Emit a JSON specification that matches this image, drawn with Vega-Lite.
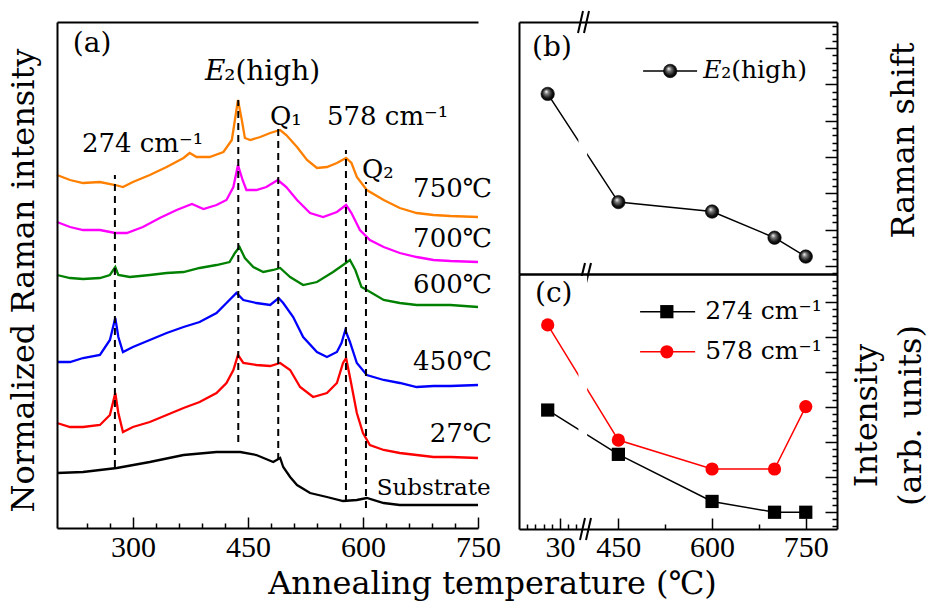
{
"$schema": "https://vega.github.io/schema/vega-lite/v6.json",
"autosize": {"type": "none"},
"padding": {"left": 57, "top": 22, "right": 881, "bottom": 591},
"background": "white",
"config": {
  "view": {"stroke": null},
  "axis": {"grid": false, "domainColor": "#000000", "domainWidth": 2, "tickColor": "#000000", "tickWidth": 1.5, "labelColor": "#000000", "titleColor": "#000000", "titleFontWeight": "normal", "labelFont": "Liberation Serif", "titleFont": "DejaVu Serif"},
  "text": {"font": "DejaVu Serif", "color": "#000000"}
},
"datasets": {
  "spectra": [
    {"sample":"750℃","shift":201,"intensity":352},{"sample":"750℃","shift":218,"intensity":347},{"sample":"750℃","shift":235,"intensity":344},{"sample":"750℃","shift":257,"intensity":345},{"sample":"750℃","shift":277,"intensity":342},{"sample":"750℃","shift":287,"intensity":340},{"sample":"750℃","shift":300,"intensity":345},{"sample":"750℃","shift":322,"intensity":352},{"sample":"750℃","shift":344,"intensity":360},{"sample":"750℃","shift":366,"intensity":369},{"sample":"750℃","shift":374,"intensity":374},{"sample":"750℃","shift":383,"intensity":370},{"sample":"750℃","shift":400,"intensity":370},{"sample":"750℃","shift":418,"intensity":375},{"sample":"750℃","shift":429,"intensity":387},{"sample":"750℃","shift":433,"intensity":407},{"sample":"750℃","shift":437,"intensity":427},{"sample":"750℃","shift":442,"intensity":407},{"sample":"750℃","shift":446,"intensity":389},{"sample":"750℃","shift":453,"intensity":387},{"sample":"750℃","shift":466,"intensity":390},{"sample":"750℃","shift":479,"intensity":394},{"sample":"750℃","shift":492,"intensity":397},{"sample":"750℃","shift":500,"intensity":392},{"sample":"750℃","shift":514,"intensity":380},{"sample":"750℃","shift":527,"intensity":367},{"sample":"750℃","shift":540,"intensity":359},{"sample":"750℃","shift":553,"intensity":360},{"sample":"750℃","shift":566,"intensity":364},{"sample":"750℃","shift":578,"intensity":369},{"sample":"750℃","shift":585,"intensity":364},{"sample":"750℃","shift":592,"intensity":350},{"sample":"750℃","shift":605,"intensity":337},{"sample":"750℃","shift":627,"intensity":327},{"sample":"750℃","shift":648,"intensity":319},{"sample":"750℃","shift":670,"intensity":314},{"sample":"750℃","shift":692,"intensity":312},{"sample":"750℃","shift":714,"intensity":311},{"sample":"750℃","shift":750,"intensity":310},
    {"sample":"700℃","shift":201,"intensity":305},{"sample":"700℃","shift":218,"intensity":300},{"sample":"700℃","shift":235,"intensity":297},{"sample":"700℃","shift":257,"intensity":297},{"sample":"700℃","shift":277,"intensity":294},{"sample":"700℃","shift":292,"intensity":294},{"sample":"700℃","shift":313,"intensity":300},{"sample":"700℃","shift":335,"intensity":309},{"sample":"700℃","shift":357,"intensity":317},{"sample":"700℃","shift":377,"intensity":323},{"sample":"700℃","shift":392,"intensity":318},{"sample":"700℃","shift":409,"intensity":322},{"sample":"700℃","shift":422,"intensity":327},{"sample":"700℃","shift":431,"intensity":340},{"sample":"700℃","shift":437,"intensity":362},{"sample":"700℃","shift":443,"intensity":347},{"sample":"700℃","shift":448,"intensity":337},{"sample":"700℃","shift":461,"intensity":337},{"sample":"700℃","shift":474,"intensity":340},{"sample":"700℃","shift":489,"intensity":347},{"sample":"700℃","shift":500,"intensity":340},{"sample":"700℃","shift":514,"intensity":327},{"sample":"700℃","shift":531,"intensity":314},{"sample":"700℃","shift":548,"intensity":310},{"sample":"700℃","shift":566,"intensity":315},{"sample":"700℃","shift":578,"intensity":322},{"sample":"700℃","shift":585,"intensity":314},{"sample":"700℃","shift":596,"intensity":297},{"sample":"700℃","shift":609,"intensity":287},{"sample":"700℃","shift":627,"intensity":280},{"sample":"700℃","shift":648,"intensity":274},{"sample":"700℃","shift":670,"intensity":270},{"sample":"700℃","shift":692,"intensity":267},{"sample":"700℃","shift":714,"intensity":266},{"sample":"700℃","shift":750,"intensity":265},
    {"sample":"600℃","shift":201,"intensity":252},{"sample":"600℃","shift":218,"intensity":249},{"sample":"600℃","shift":235,"intensity":248},{"sample":"600℃","shift":257,"intensity":249},{"sample":"600℃","shift":270,"intensity":252},{"sample":"600℃","shift":277,"intensity":260},{"sample":"600℃","shift":281,"intensity":252},{"sample":"600℃","shift":296,"intensity":250},{"sample":"600℃","shift":322,"intensity":252},{"sample":"600℃","shift":344,"intensity":254},{"sample":"600℃","shift":366,"intensity":255},{"sample":"600℃","shift":387,"intensity":259},{"sample":"600℃","shift":409,"intensity":262},{"sample":"600℃","shift":426,"intensity":265},{"sample":"600℃","shift":433,"intensity":274},{"sample":"600℃","shift":439,"intensity":280},{"sample":"600℃","shift":446,"intensity":269},{"sample":"600℃","shift":457,"intensity":260},{"sample":"600℃","shift":470,"intensity":255},{"sample":"600℃","shift":483,"intensity":257},{"sample":"600℃","shift":492,"intensity":259},{"sample":"600℃","shift":505,"intensity":250},{"sample":"600℃","shift":522,"intensity":242},{"sample":"600℃","shift":540,"intensity":245},{"sample":"600℃","shift":561,"intensity":255},{"sample":"600℃","shift":574,"intensity":262},{"sample":"600℃","shift":583,"intensity":267},{"sample":"600℃","shift":590,"intensity":257},{"sample":"600℃","shift":598,"intensity":240},{"sample":"600℃","shift":605,"intensity":237},{"sample":"600℃","shift":627,"intensity":227},{"sample":"600℃","shift":648,"intensity":224},{"sample":"600℃","shift":670,"intensity":222},{"sample":"600℃","shift":692,"intensity":222},{"sample":"600℃","shift":714,"intensity":222},{"sample":"600℃","shift":750,"intensity":220},
    {"sample":"450℃","shift":201,"intensity":165},{"sample":"450℃","shift":218,"intensity":165},{"sample":"450℃","shift":235,"intensity":169},{"sample":"450℃","shift":257,"intensity":172},{"sample":"450℃","shift":270,"intensity":187},{"sample":"450℃","shift":277,"intensity":209},{"sample":"450℃","shift":281,"intensity":190},{"sample":"450℃","shift":287,"intensity":175},{"sample":"450℃","shift":300,"intensity":180},{"sample":"450℃","shift":322,"intensity":187},{"sample":"450℃","shift":344,"intensity":194},{"sample":"450℃","shift":366,"intensity":200},{"sample":"450℃","shift":387,"intensity":205},{"sample":"450℃","shift":409,"intensity":214},{"sample":"450℃","shift":422,"intensity":224},{"sample":"450℃","shift":435,"intensity":234},{"sample":"450℃","shift":444,"intensity":227},{"sample":"450℃","shift":461,"intensity":224},{"sample":"450℃","shift":479,"intensity":222},{"sample":"450℃","shift":490,"intensity":229},{"sample":"450℃","shift":496,"intensity":224},{"sample":"450℃","shift":509,"intensity":210},{"sample":"450℃","shift":522,"intensity":190},{"sample":"450℃","shift":540,"intensity":175},{"sample":"450℃","shift":553,"intensity":170},{"sample":"450℃","shift":566,"intensity":175},{"sample":"450℃","shift":572,"intensity":184},{"sample":"450℃","shift":577,"intensity":197},{"sample":"450℃","shift":583,"intensity":185},{"sample":"450℃","shift":592,"intensity":164},{"sample":"450℃","shift":605,"intensity":152},{"sample":"450℃","shift":627,"intensity":147},{"sample":"450℃","shift":648,"intensity":144},{"sample":"450℃","shift":670,"intensity":140},{"sample":"450℃","shift":692,"intensity":141},{"sample":"450℃","shift":714,"intensity":141},{"sample":"450℃","shift":750,"intensity":142},
    {"sample":"27℃","shift":201,"intensity":104},{"sample":"27℃","shift":218,"intensity":100},{"sample":"27℃","shift":235,"intensity":100},{"sample":"27℃","shift":257,"intensity":102},{"sample":"27℃","shift":270,"intensity":112},{"sample":"27℃","shift":277,"intensity":134},{"sample":"27℃","shift":281,"intensity":114},{"sample":"27℃","shift":287,"intensity":95},{"sample":"27℃","shift":300,"intensity":100},{"sample":"27℃","shift":322,"intensity":105},{"sample":"27℃","shift":344,"intensity":112},{"sample":"27℃","shift":366,"intensity":119},{"sample":"27℃","shift":387,"intensity":125},{"sample":"27℃","shift":409,"intensity":134},{"sample":"27℃","shift":422,"intensity":144},{"sample":"27℃","shift":431,"intensity":157},{"sample":"27℃","shift":437,"intensity":172},{"sample":"27℃","shift":444,"intensity":164},{"sample":"27℃","shift":461,"intensity":162},{"sample":"27℃","shift":479,"intensity":161},{"sample":"27℃","shift":492,"intensity":164},{"sample":"27℃","shift":505,"intensity":157},{"sample":"27℃","shift":518,"intensity":140},{"sample":"27℃","shift":535,"intensity":130},{"sample":"27℃","shift":553,"intensity":134},{"sample":"27℃","shift":566,"intensity":144},{"sample":"27℃","shift":574,"intensity":164},{"sample":"27℃","shift":578,"intensity":169},{"sample":"27℃","shift":583,"intensity":150},{"sample":"27℃","shift":592,"intensity":114},{"sample":"27℃","shift":600,"intensity":94},{"sample":"27℃","shift":609,"intensity":82},{"sample":"27℃","shift":627,"intensity":77},{"sample":"27℃","shift":648,"intensity":74},{"sample":"27℃","shift":670,"intensity":72},{"sample":"27℃","shift":692,"intensity":70},{"sample":"27℃","shift":714,"intensity":70},{"sample":"27℃","shift":750,"intensity":69},
    {"sample":"Substrate","shift":201,"intensity":54},{"sample":"Substrate","shift":235,"intensity":55},{"sample":"Substrate","shift":279,"intensity":59},{"sample":"Substrate","shift":322,"intensity":65},{"sample":"Substrate","shift":366,"intensity":72},{"sample":"Substrate","shift":409,"intensity":75},{"sample":"Substrate","shift":440,"intensity":75},{"sample":"Substrate","shift":461,"intensity":72},{"sample":"Substrate","shift":483,"intensity":65},{"sample":"Substrate","shift":492,"intensity":69},{"sample":"Substrate","shift":496,"intensity":60},{"sample":"Substrate","shift":505,"intensity":50},{"sample":"Substrate","shift":514,"intensity":42},{"sample":"Substrate","shift":531,"intensity":34},{"sample":"Substrate","shift":553,"intensity":30},{"sample":"Substrate","shift":574,"intensity":26},{"sample":"Substrate","shift":592,"intensity":27},{"sample":"Substrate","shift":605,"intensity":29},{"sample":"Substrate","shift":627,"intensity":24},{"sample":"Substrate","shift":648,"intensity":22},{"sample":"Substrate","shift":692,"intensity":22},{"sample":"Substrate","shift":750,"intensity":22}
  ],
  "peaks": [
    {"mode":"274 cm⁻¹","shift":276.5,"top":352,"bottom":60},
    {"mode":"E₂(high)","shift":437.4,"top":427,"bottom":85},
    {"mode":"Q₁","shift":489.5,"top":400,"bottom":67},
    {"mode":"578 cm⁻¹","shift":577.8,"top":377,"bottom":25},
    {"mode":"Q₂","shift":603.9,"top":345,"bottom":19}
  ],
  "sample_labels": [
    {"label":"750℃","shift":768,"intensity":330},
    {"label":"700℃","shift":768,"intensity":280},
    {"label":"600℃","shift":768,"intensity":234},
    {"label":"450℃","shift":768,"intensity":157},
    {"label":"27℃","shift":768,"intensity":85}
  ],
  "peak_labels": [
    {"label":"274 cm⁻¹","shift":233.5,"intensity":375},
    {"label":"Q₁","shift":478.7,"intensity":402},
    {"label":"578 cm⁻¹","shift":553,"intensity":402},
    {"label":"Q₂","shift":598.7,"intensity":349}
  ],
  "e2": [
    {"temperature":27,"raman_shift":438.37},
    {"temperature":450,"raman_shift":436.88},
    {"temperature":600,"raman_shift":436.75},
    {"temperature":700,"raman_shift":436.39},
    {"temperature":750,"raman_shift":436.13}
  ],
  "band_intensity": [
    {"band":"274 cm⁻¹","temperature":27,"intensity":3.91},
    {"band":"274 cm⁻¹","temperature":450,"intensity":2.64},
    {"band":"274 cm⁻¹","temperature":600,"intensity":1.29},
    {"band":"274 cm⁻¹","temperature":700,"intensity":0.98},
    {"band":"274 cm⁻¹","temperature":750,"intensity":0.98},
    {"band":"578 cm⁻¹","temperature":27,"intensity":6.35},
    {"band":"578 cm⁻¹","temperature":450,"intensity":3.05},
    {"band":"578 cm⁻¹","temperature":600,"intensity":2.22},
    {"band":"578 cm⁻¹","temperature":700,"intensity":2.22},
    {"band":"578 cm⁻¹","temperature":750,"intensity":4.01}
  ]
},
"spacing": 41,
"bounds": "flush",
"hconcat": [
  {
    "width": 421, "height": 506,
    "resolve": {"axis": {"x": "independent", "y": "independent"}},
    "layer": [
      {
        "data": {"name": "spectra"},
        "mark": {"type": "line", "strokeWidth": 2.3},
        "encoding": {
          "x": {"field": "shift", "type": "quantitative", "scale": {"domain": [201, 750], "nice": false, "zero": false},
                "axis": {"orient": "bottom", "values": [300, 450, 600, 750], "ticks": false, "tickSize": 0, "domain": true, "labelFontSize": 30, "labelPadding": 28, "labelBaseline": "alphabetic", "labelFlush": false, "labelOverlap": false, "title": "Annealing temperature (℃)", "titleFontSize": 32, "titleX": 435, "titleY": 65, "titleAlign": "center", "titleBaseline": "alphabetic", "zindex": 1}},
          "y": {"field": "intensity", "type": "quantitative", "scale": {"domain": [-1, 505], "nice": false, "zero": false},
                "axis": {"orient": "left", "ticks": false, "labels": false, "domain": true, "title": "Normalized Raman intensity", "titleFontSize": 32, "titleAngle": 270, "titleX": -34, "titleY": 258, "titleAlign": "center", "titleBaseline": "middle", "zindex": 1}},
          "color": {"field": "sample", "type": "nominal", "scale": {"domain": ["Substrate", "27℃", "450℃", "600℃", "700℃", "750℃"], "range": ["#000000", "#ff0000", "#0000ff", "#008000", "#ff00ff", "#ff8000"]}, "legend": null}
        }
      },
      {
        "data": {"name": "peaks"},
        "mark": {"type": "rule", "color": "#000000", "strokeWidth": 2, "strokeDash": [7, 5]},
        "encoding": {
          "x": {"field": "shift", "type": "quantitative", "scale": {"domain": [201, 750], "nice": false, "zero": false},
                "axis": {"orient": "bottom", "values": [300, 450, 600, 750], "labels": false, "domain": false, "tickSize": -11, "title": null}},
          "y": {"field": "bottom", "type": "quantitative", "scale": {"domain": [-1, 505], "nice": false, "zero": false}, "axis": null},
          "y2": {"field": "top"}
        }
      },
      {
        "data": {"name": "sample_labels"},
        "mark": {"type": "text", "align": "right", "baseline": "alphabetic", "fontSize": 26},
        "encoding": {
          "x": {"field": "shift", "type": "quantitative", "scale": {"domain": [201, 750], "nice": false, "zero": false},
                "axis": {"orient": "bottom", "values": [240, 270, 330, 360, 390, 420, 480, 510, 540, 570, 630, 660, 690, 720], "labels": false, "domain": false, "tickSize": -5, "title": null}},
          "y": {"field": "intensity", "type": "quantitative", "scale": {"domain": [-1, 505], "nice": false, "zero": false}, "axis": null},
          "text": {"field": "label"}
        }
      },
      {
        "data": {"name": "peak_labels"},
        "mark": {"type": "text", "align": "left", "baseline": "alphabetic", "fontSize": 26},
        "encoding": {
          "x": {"field": "shift", "type": "quantitative", "scale": {"domain": [201, 750], "nice": false, "zero": false},
                "axis": {"orient": "top", "ticks": false, "labels": false, "domain": true, "title": null, "zindex": 1}},
          "y": {"field": "intensity", "type": "quantitative", "scale": {"domain": [-1, 505], "nice": false, "zero": false}, "axis": null},
          "text": {"field": "label"}
        }
      },
      {
        "data": {"values": [{"label": "Substrate", "shift": 618, "intensity": 32}]},
        "mark": {"type": "text", "align": "left", "baseline": "alphabetic", "fontSize": 23},
        "encoding": {
          "x": {"field": "shift", "type": "quantitative", "scale": {"domain": [201, 750], "nice": false, "zero": false}, "axis": null},
          "y": {"field": "intensity", "type": "quantitative", "scale": {"domain": [-1, 505], "nice": false, "zero": false}, "axis": null},
          "text": {"field": "label"}
        }
      },
      {
        "data": {"values": [{"label": "E", "shift": 394, "intensity": 447}]},
        "mark": {"type": "text", "align": "left", "baseline": "alphabetic", "fontSize": 28, "fontStyle": "italic"},
        "encoding": {
          "x": {"field": "shift", "type": "quantitative", "scale": {"domain": [201, 750], "nice": false, "zero": false}, "axis": null},
          "y": {"field": "intensity", "type": "quantitative", "scale": {"domain": [-1, 505], "nice": false, "zero": false}, "axis": null},
          "text": {"field": "label"}
        }
      },
      {
        "data": {"values": [{"label": "₂(high)", "shift": 419, "intensity": 447}]},
        "mark": {"type": "text", "align": "left", "baseline": "alphabetic", "fontSize": 28},
        "encoding": {
          "x": {"field": "shift", "type": "quantitative", "scale": {"domain": [201, 750], "nice": false, "zero": false}, "axis": null},
          "y": {"field": "intensity", "type": "quantitative", "scale": {"domain": [-1, 505], "nice": false, "zero": false}, "axis": null},
          "text": {"field": "label"}
        }
      },
      {
        "data": {"values": [{"label": "(a)", "shift": 221.7, "intensity": 475}]},
        "mark": {"type": "text", "align": "left", "baseline": "alphabetic", "fontSize": 28},
        "encoding": {
          "x": {"field": "shift", "type": "quantitative", "scale": {"domain": [201, 750], "nice": false, "zero": false}, "axis": null},
          "y": {"field": "intensity", "type": "quantitative", "scale": {"domain": [-1, 505], "nice": false, "zero": false}, "axis": null},
          "text": {"field": "label"}
        }
      }
    ]
  },
  {
    "spacing": 0,
    "bounds": "flush",
    "vconcat": [
      {
        "width": 318, "height": 252,
        "resolve": {"axis": {"x": "independent", "y": "independent"}},
        "layer": [
          {
            "data": {"name": "e2"},
            "mark": {"type": "line", "color": "#000000", "strokeWidth": 1.5},
            "encoding": {
              "x": {"field": "temperature", "type": "quantitative", "scale": {"domain": [20, 36.1, 396.6, 800], "range": [0, 66, 66, 318], "nice": false, "zero": false},
                    "axis": {"orient": "bottom", "ticks": false, "labels": false, "domain": true, "title": null, "zindex": 1}},
              "y": {"field": "raman_shift", "type": "quantitative", "scale": {"domain": [435.89, 439.36], "nice": false, "zero": false},
                    "axis": {"orient": "left", "ticks": false, "labels": false, "domain": true, "title": null, "zindex": 1}}
            }
          },
          {
            "data": {"values": [{}]},
            "mark": {"type": "rect", "color": "#ffffff"},
            "encoding": {
              "x": {"datum": 34.5, "type": "quantitative", "scale": {"domain": [20, 36.1, 396.6, 800], "range": [0, 66, 66, 318], "nice": false, "zero": false},
                    "axis": {"orient": "top", "ticks": false, "labels": false, "domain": true, "title": null, "zindex": 1}},
              "x2": {"datum": 400},
              "y": {"datum": 435.95, "type": "quantitative", "scale": {"domain": [435.89, 439.36], "nice": false, "zero": false},
                    "axis": {"orient": "right", "values": [436, 436.5, 437, 437.5, 438, 438.5, 439], "labels": false, "domain": true, "tickSize": -12, "title": "Raman shift", "titleFontSize": 32, "titleAngle": 270, "titleX": 66, "titleY": 118, "titleAlign": "center", "titleBaseline": "middle", "zindex": 1}},
              "y2": {"datum": 439.3}
            }
          },
          {
            "data": {"name": "e2"},
            "mark": {"type": "point", "shape": "circle", "filled": true, "opacity": 1, "size": 180, "stroke": "#000000", "strokeWidth": 0.6,
                     "fill": {"gradient": "radial", "x1": 0.38, "y1": 0.32, "r1": 0, "x2": 0.5, "y2": 0.5, "r2": 0.55, "stops": [{"offset": 0, "color": "#ffffff"}, {"offset": 0.3, "color": "#777777"}, {"offset": 0.7, "color": "#111111"}, {"offset": 1, "color": "#000000"}]}},
            "encoding": {
              "x": {"field": "temperature", "type": "quantitative", "scale": {"domain": [20, 36.1, 396.6, 800], "range": [0, 66, 66, 318], "nice": false, "zero": false}, "axis": null},
              "y": {"field": "raman_shift", "type": "quantitative", "scale": {"domain": [435.89, 439.36], "nice": false, "zero": false},
                    "axis": {"orient": "right", "values": [435.9, 436.1, 436.2, 436.3, 436.4, 436.6, 436.7, 436.8, 436.9, 437.1, 437.2, 437.3, 437.4, 437.6, 437.7, 437.8, 437.9, 438.1, 438.2, 438.3, 438.4, 438.6, 438.7, 438.8, 438.9, 439.1, 439.2, 439.3], "labels": false, "domain": false, "tickSize": -5, "title": null}}
            }
          },
          {
            "data": {"values": [{}]},
            "mark": {"type": "rule", "color": "#000000", "strokeWidth": 1.5},
            "encoding": {
              "x": {"datum": 489.6, "type": "quantitative", "scale": {"domain": [20, 36.1, 396.6, 800], "range": [0, 66, 66, 318], "nice": false, "zero": false}, "axis": null},
              "x2": {"datum": 576},
              "y": {"datum": 438.686, "type": "quantitative", "scale": {"domain": [435.89, 439.36], "nice": false, "zero": false}, "axis": null}
            }
          },
          {
            "data": {"values": [{}]},
            "mark": {"type": "point", "shape": "circle", "filled": true, "opacity": 1, "size": 180, "stroke": "#000000", "strokeWidth": 0.6,
                     "fill": {"gradient": "radial", "x1": 0.38, "y1": 0.32, "r1": 0, "x2": 0.5, "y2": 0.5, "r2": 0.55, "stops": [{"offset": 0, "color": "#ffffff"}, {"offset": 0.3, "color": "#777777"}, {"offset": 0.7, "color": "#111111"}, {"offset": 1, "color": "#000000"}]}},
            "encoding": {
              "x": {"datum": 533, "type": "quantitative", "scale": {"domain": [20, 36.1, 396.6, 800], "range": [0, 66, 66, 318], "nice": false, "zero": false}, "axis": null},
              "y": {"datum": 438.686, "type": "quantitative", "scale": {"domain": [435.89, 439.36], "nice": false, "zero": false}, "axis": null}
            }
          },
          {
            "data": {"values": [{}]},
            "mark": {"type": "text", "align": "left", "baseline": "alphabetic", "fontSize": 25, "fontStyle": "italic", "text": "E"},
            "encoding": {
              "x": {"datum": 585.7, "type": "quantitative", "scale": {"domain": [20, 36.1, 396.6, 800], "range": [0, 66, 66, 318], "nice": false, "zero": false}, "axis": null},
              "y": {"datum": 438.59, "type": "quantitative", "scale": {"domain": [435.89, 439.36], "nice": false, "zero": false}, "axis": null}
            }
          },
          {
            "data": {"values": [{}]},
            "mark": {"type": "text", "align": "left", "baseline": "alphabetic", "fontSize": 25, "text": "₂(high)"},
            "encoding": {
              "x": {"datum": 614.6, "type": "quantitative", "scale": {"domain": [20, 36.1, 396.6, 800], "range": [0, 66, 66, 318], "nice": false, "zero": false}, "axis": null},
              "y": {"datum": 438.59, "type": "quantitative", "scale": {"domain": [435.89, 439.36], "nice": false, "zero": false}, "axis": null}
            }
          },
          {
            "data": {"values": [{}]},
            "mark": {"type": "text", "align": "left", "baseline": "alphabetic", "fontSize": 28, "text": "(b)"},
            "encoding": {
              "x": {"datum": 23.2, "type": "quantitative", "scale": {"domain": [20, 36.1, 396.6, 800], "range": [0, 66, 66, 318], "nice": false, "zero": false}, "axis": null},
              "y": {"datum": 438.89, "type": "quantitative", "scale": {"domain": [435.89, 439.36], "nice": false, "zero": false}, "axis": null}
            }
          },
          {
            "data": {"values": [{}]},
            "mark": {"type": "rule", "color": "#000000", "strokeWidth": 2, "xOffset": -7, "x2Offset": -2, "yOffset": 11, "y2Offset": -11},
            "encoding": {
              "x": {"datum": 36.1, "type": "quantitative", "scale": {"domain": [20, 36.1, 396.6, 800], "range": [0, 66, 66, 318], "nice": false, "zero": false}, "axis": null},
              "x2": {"datum": 36.1},
              "y": {"datum": 439.36, "type": "quantitative", "scale": {"domain": [435.89, 439.36], "nice": false, "zero": false}, "axis": null},
              "y2": {"datum": 439.36}
            }
          },
          {
            "data": {"values": [{}]},
            "mark": {"type": "rule", "color": "#000000", "strokeWidth": 2, "xOffset": -1, "x2Offset": 4, "yOffset": 11, "y2Offset": -11},
            "encoding": {
              "x": {"datum": 36.1, "type": "quantitative", "scale": {"domain": [20, 36.1, 396.6, 800], "range": [0, 66, 66, 318], "nice": false, "zero": false}, "axis": null},
              "x2": {"datum": 36.1},
              "y": {"datum": 439.36, "type": "quantitative", "scale": {"domain": [435.89, 439.36], "nice": false, "zero": false}, "axis": null},
              "y2": {"datum": 439.36}
            }
          },
          {
            "data": {"values": [{}]},
            "mark": {"type": "rule", "color": "#000000", "strokeWidth": 2, "xOffset": -5, "x2Offset": 0, "yOffset": 9, "y2Offset": -11},
            "encoding": {
              "x": {"datum": 36.1, "type": "quantitative", "scale": {"domain": [20, 36.1, 396.6, 800], "range": [0, 66, 66, 318], "nice": false, "zero": false}, "axis": null},
              "x2": {"datum": 36.1},
              "y": {"datum": 435.89, "type": "quantitative", "scale": {"domain": [435.89, 439.36], "nice": false, "zero": false}, "axis": null},
              "y2": {"datum": 435.89}
            }
          },
          {
            "data": {"values": [{}]},
            "mark": {"type": "rule", "color": "#000000", "strokeWidth": 2, "xOffset": 1, "x2Offset": 6, "yOffset": 9, "y2Offset": -11},
            "encoding": {
              "x": {"datum": 36.1, "type": "quantitative", "scale": {"domain": [20, 36.1, 396.6, 800], "range": [0, 66, 66, 318], "nice": false, "zero": false}, "axis": null},
              "x2": {"datum": 36.1},
              "y": {"datum": 435.89, "type": "quantitative", "scale": {"domain": [435.89, 439.36], "nice": false, "zero": false}, "axis": null},
              "y2": {"datum": 435.89}
            }
          }
        ]
      },
      {
        "width": 318, "height": 255,
        "resolve": {"axis": {"x": "independent", "y": "independent"}},
        "layer": [
          {
            "data": {"name": "band_intensity"},
            "mark": {"type": "line", "strokeWidth": 1.5},
            "encoding": {
              "x": {"field": "temperature", "type": "quantitative", "scale": {"domain": [20, 36.1, 396.6, 800], "range": [0, 66, 66, 318], "nice": false, "zero": false},
                    "axis": {"orient": "bottom", "values": [30, 450, 600, 750], "ticks": false, "tickSize": 0, "domain": true, "labelFontSize": 30, "labelPadding": 27, "labelBaseline": "alphabetic", "labelFlush": false, "labelOverlap": false, "title": null, "zindex": 1}},
              "y": {"field": "intensity", "type": "quantitative", "scale": {"domain": [0.5, 7.81], "nice": false, "zero": false},
                    "axis": {"orient": "left", "ticks": false, "labels": false, "domain": true, "title": null, "zindex": 1}},
              "color": {"field": "band", "type": "nominal", "scale": {"domain": ["274 cm⁻¹", "578 cm⁻¹"], "range": ["#000000", "#ff0000"]}, "legend": null}
            }
          },
          {
            "data": {"values": [{}]},
            "mark": {"type": "rect", "color": "#ffffff"},
            "encoding": {
              "x": {"datum": 34.5, "type": "quantitative", "scale": {"domain": [20, 36.1, 396.6, 800], "range": [0, 66, 66, 318], "nice": false, "zero": false},
                    "axis": {"orient": "bottom", "values": [30, 450, 600, 750], "labels": false, "domain": false, "tickSize": -11, "title": null}},
              "x2": {"datum": 400},
              "y": {"datum": 0.6, "type": "quantitative", "scale": {"domain": [0.5, 7.81], "nice": false, "zero": false},
                    "axis": {"orient": "right", "values": [1, 2, 3, 4, 5, 6, 7], "labels": false, "domain": true, "tickSize": -12, "title": ["Intensity", "(arb. units)"], "titleFontSize": 32, "titleLineHeight": 44, "titleAngle": 270, "titleX": 29, "titleY": 141, "titleAlign": "center", "titleBaseline": "middle", "zindex": 1}},
              "y2": {"datum": 7.75}
            }
          },
          {
            "data": {"name": "band_intensity"},
            "mark": {"type": "point", "filled": true, "opacity": 1, "size": 175},
            "encoding": {
              "x": {"field": "temperature", "type": "quantitative", "scale": {"domain": [20, 36.1, 396.6, 800], "range": [0, 66, 66, 318], "nice": false, "zero": false},
                    "axis": {"orient": "bottom", "values": [22, 24, 26, 28, 32, 34, 525, 675], "labels": false, "domain": false, "tickSize": -5, "title": null}},
              "y": {"field": "intensity", "type": "quantitative", "scale": {"domain": [0.5, 7.81], "nice": false, "zero": false},
                    "axis": {"orient": "right", "values": [0.6, 0.8, 1.2, 1.4, 1.6, 1.8, 2.2, 2.4, 2.6, 2.8, 3.2, 3.4, 3.6, 3.8, 4.2, 4.4, 4.6, 4.8, 5.2, 5.4, 5.6, 5.8, 6.2, 6.4, 6.6, 6.8, 7.2, 7.4, 7.6, 7.8], "labels": false, "domain": false, "tickSize": -5, "title": null}},
              "color": {"field": "band", "type": "nominal", "scale": {"domain": ["274 cm⁻¹", "578 cm⁻¹"], "range": ["#000000", "#ff0000"]}, "legend": null},
              "shape": {"field": "band", "type": "nominal", "scale": {"domain": ["274 cm⁻¹", "578 cm⁻¹"], "range": ["square", "circle"]}, "legend": null}
            }
          },
          {
            "data": {"values": [{}]},
            "mark": {"type": "rule", "color": "#000000", "strokeWidth": 1.5},
            "encoding": {
              "x": {"datum": 484.8, "type": "quantitative", "scale": {"domain": [20, 36.1, 396.6, 800], "range": [0, 66, 66, 318], "nice": false, "zero": false},
                    "axis": {"orient": "top", "ticks": false, "labels": false, "domain": true, "title": null, "zindex": 1}},
              "x2": {"datum": 572.9},
              "y": {"datum": 6.73, "type": "quantitative", "scale": {"domain": [0.5, 7.81], "nice": false, "zero": false}, "axis": null}
            }
          },
          {
            "data": {"values": [{}]},
            "mark": {"type": "point", "shape": "square", "filled": true, "opacity": 1, "size": 175, "color": "#000000"},
            "encoding": {
              "x": {"datum": 527.6, "type": "quantitative", "scale": {"domain": [20, 36.1, 396.6, 800], "range": [0, 66, 66, 318], "nice": false, "zero": false}, "axis": null},
              "y": {"datum": 6.73, "type": "quantitative", "scale": {"domain": [0.5, 7.81], "nice": false, "zero": false}, "axis": null}
            }
          },
          {
            "data": {"values": [{}]},
            "mark": {"type": "text", "align": "left", "baseline": "alphabetic", "fontSize": 25, "text": "274 cm⁻¹"},
            "encoding": {
              "x": {"datum": 588.9, "type": "quantitative", "scale": {"domain": [20, 36.1, 396.6, 800], "range": [0, 66, 66, 318], "nice": false, "zero": false}, "axis": null},
              "y": {"datum": 6.53, "type": "quantitative", "scale": {"domain": [0.5, 7.81], "nice": false, "zero": false}, "axis": null}
            }
          },
          {
            "data": {"values": [{}]},
            "mark": {"type": "rule", "color": "#ff0000", "strokeWidth": 1.5},
            "encoding": {
              "x": {"datum": 484.8, "type": "quantitative", "scale": {"domain": [20, 36.1, 396.6, 800], "range": [0, 66, 66, 318], "nice": false, "zero": false}, "axis": null},
              "x2": {"datum": 572.9},
              "y": {"datum": 5.58, "type": "quantitative", "scale": {"domain": [0.5, 7.81], "nice": false, "zero": false}, "axis": null}
            }
          },
          {
            "data": {"values": [{}]},
            "mark": {"type": "point", "shape": "circle", "filled": true, "opacity": 1, "size": 175, "color": "#ff0000"},
            "encoding": {
              "x": {"datum": 527.6, "type": "quantitative", "scale": {"domain": [20, 36.1, 396.6, 800], "range": [0, 66, 66, 318], "nice": false, "zero": false}, "axis": null},
              "y": {"datum": 5.58, "type": "quantitative", "scale": {"domain": [0.5, 7.81], "nice": false, "zero": false}, "axis": null}
            }
          },
          {
            "data": {"values": [{}]},
            "mark": {"type": "text", "align": "left", "baseline": "alphabetic", "fontSize": 25, "text": "578 cm⁻¹"},
            "encoding": {
              "x": {"datum": 588.9, "type": "quantitative", "scale": {"domain": [20, 36.1, 396.6, 800], "range": [0, 66, 66, 318], "nice": false, "zero": false}, "axis": null},
              "y": {"datum": 5.38, "type": "quantitative", "scale": {"domain": [0.5, 7.81], "nice": false, "zero": false}, "axis": null}
            }
          },
          {
            "data": {"values": [{}]},
            "mark": {"type": "text", "align": "left", "baseline": "alphabetic", "fontSize": 28, "text": "(c)"},
            "encoding": {
              "x": {"datum": 23.9, "type": "quantitative", "scale": {"domain": [20, 36.1, 396.6, 800], "range": [0, 66, 66, 318], "nice": false, "zero": false}, "axis": null},
              "y": {"datum": 7.01, "type": "quantitative", "scale": {"domain": [0.5, 7.81], "nice": false, "zero": false}, "axis": null}
            }
          },
          {
            "data": {"values": [{}]},
            "mark": {"type": "rule", "color": "#000000", "strokeWidth": 2, "xOffset": -5, "x2Offset": 0, "yOffset": 11, "y2Offset": -11},
            "encoding": {
              "x": {"datum": 36.1, "type": "quantitative", "scale": {"domain": [20, 36.1, 396.6, 800], "range": [0, 66, 66, 318], "nice": false, "zero": false}, "axis": null},
              "x2": {"datum": 36.1},
              "y": {"datum": 0.5, "type": "quantitative", "scale": {"domain": [0.5, 7.81], "nice": false, "zero": false}, "axis": null},
              "y2": {"datum": 0.5}
            }
          },
          {
            "data": {"values": [{}]},
            "mark": {"type": "rule", "color": "#000000", "strokeWidth": 2, "xOffset": 1, "x2Offset": 6, "yOffset": 11, "y2Offset": -11},
            "encoding": {
              "x": {"datum": 36.1, "type": "quantitative", "scale": {"domain": [20, 36.1, 396.6, 800], "range": [0, 66, 66, 318], "nice": false, "zero": false}, "axis": null},
              "x2": {"datum": 36.1},
              "y": {"datum": 0.5, "type": "quantitative", "scale": {"domain": [0.5, 7.81], "nice": false, "zero": false}, "axis": null},
              "y2": {"datum": 0.5}
            }
          }
        ]
      }
    ]
  }
]
}
